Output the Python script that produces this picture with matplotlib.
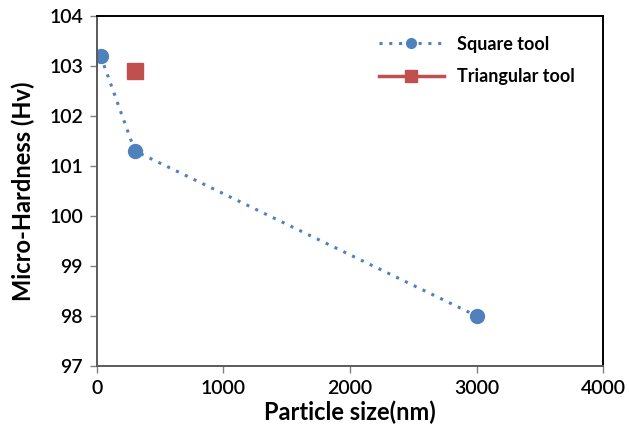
import matplotlib
matplotlib.use("Agg")
import matplotlib.pyplot as plt

plt.rcParams['font.family'] = ['Lato', 'DejaVu Sans']

# Data
square_x = [30, 300, 3000]
square_y = [103.2, 101.3, 98.0]
tri_x = [300]
tri_y = [102.9]

blue = "#4F81BD"
red = "#C0504D"

fig = plt.figure(figsize=(6.29, 4.32), dpi=100)
ax = fig.add_axes([0.154, 0.153, 0.805, 0.810])

ax.plot(square_x, square_y, linestyle=(0, (1, 2.2)), linewidth=2.2, color=blue,
        marker="o", markersize=10, label="Square tool")
ax.plot(tri_x, tri_y, linestyle="-", linewidth=2.5, color=red,
        marker="s", markersize=11.5, label="Triangular tool")

ax.set_xlim(0, 4000)
ax.set_ylim(97, 104)
ax.set_xticks([0, 1000, 2000, 3000, 4000])
ax.set_yticks([97, 98, 99, 100, 101, 102, 103, 104])
ax.tick_params(axis="both", direction="out", length=5, width=1.0, color="#808080",
               labelsize=14, pad=5)
for lab in ax.get_xticklabels() + ax.get_yticklabels():
    lab.set_fontweight("semibold")

for s in ax.spines.values():
    s.set_linewidth(1.4)
    s.set_color("black")
ax.spines["left"].set_color("#5a5a5a")
ax.spines["bottom"].set_color("#5a5a5a")

ax.set_xlabel("Particle size(nm)", fontsize=17, fontweight="bold", labelpad=3)
ax.set_ylabel("Micro-Hardness (Hv)", fontsize=17, fontweight="bold", labelpad=10)

leg = ax.legend(loc="upper right", frameon=False, markerscale=0.7,
                prop={"size": 13, "weight": "bold"},
                handlelength=3.6, handletextpad=0.7, labelspacing=0.85,
                bbox_to_anchor=(0.975, 0.99))

fig.savefig("out.png", dpi=100)
